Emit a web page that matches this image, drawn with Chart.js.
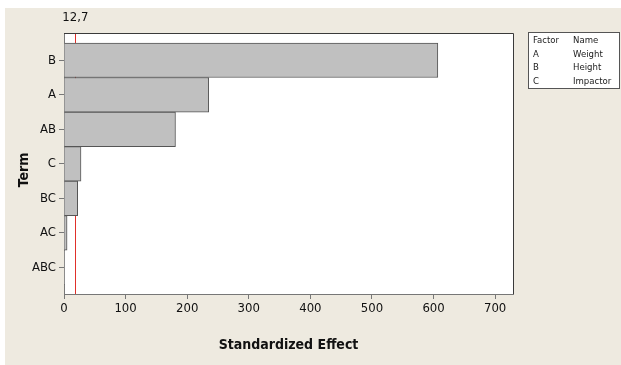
<!DOCTYPE html>
<html>
<head>
<meta charset="utf-8">
<script src="https://cdn.jsdelivr.net/npm/chart.js@4.4.1/dist/chart.umd.min.js"></script>
<style>
    html, body { margin: 0; padding: 0; background: #fff; }
    #wrap { width: 621px; height: 365px; }
</style>
</head>
<body>
<div id="wrap"><canvas id="paretoChart" width="621" height="365"></canvas></div>
<script>
    const terms = ['B', 'A', 'AB', 'C', 'BC', 'AC', 'ABC'];
    const effects = [607, 235, 181, 27.6, 22.2, 5, 0.4];
    const xTicks = [0, 100, 200, 300, 400, 500, 600, 700];
    const refLineValue = 18.4;
    const refLineLabel = '12,7';
    const factorLetters = ['A', 'B', 'C'];
    const factorNames = ['Weight', 'Height', 'Impactor'];

    const FONT = '"DejaVu Sans Condensed", "DejaVu Sans", sans-serif';
    const BEIGE = '#eeeae0';

    const decor = {
        id: 'decor',
        beforeDraw(chart) {
            const { ctx, chartArea: a } = chart;
            ctx.save();
            ctx.fillStyle = BEIGE;
            ctx.fillRect(5, 8, chart.width - 5, chart.height - 8);
            ctx.fillStyle = '#fff';
            ctx.fillRect(a.left, a.top, a.right - a.left, a.bottom - a.top);
            ctx.restore();
        },
        beforeDatasetsDraw(chart) {
            const { ctx, chartArea: a } = chart;
            const x = Math.round(chart.scales.x.getPixelForValue(refLineValue)) + 0.5;
            ctx.save();
            ctx.strokeStyle = '#e0302a';
            ctx.lineWidth = 1;
            ctx.beginPath();
            ctx.moveTo(x, a.top);
            ctx.lineTo(x, a.bottom);
            ctx.stroke();
            ctx.restore();
        },
        afterDraw(chart) {
            const { ctx, chartArea: a } = chart;
            ctx.save();
            // top and right frame of plot
            ctx.strokeStyle = '#3a3a3a';
            ctx.lineWidth = 1;
            ctx.beginPath();
            ctx.moveTo(a.left, a.top + 0.5);
            ctx.lineTo(a.right + 0.5, a.top + 0.5);
            ctx.lineTo(a.right + 0.5, a.bottom);
            ctx.stroke();

            // reference line label
            const x = chart.scales.x.getPixelForValue(refLineValue);
            ctx.fillStyle = '#111';
            ctx.font = '13px ' + FONT;
            ctx.textAlign = 'center';
            ctx.textBaseline = 'middle';
            ctx.fillText(refLineLabel, x, 18);

            // y axis title
            ctx.save();
            ctx.translate(24, 170);
            ctx.rotate(-Math.PI / 2);
            ctx.font = 'bold 14px ' + FONT;
            ctx.fillText('Term', 0, 0);
            ctx.restore();

            // factor box
            ctx.fillStyle = '#fff';
            ctx.fillRect(528, 32, 92, 56);
            ctx.strokeStyle = '#555';
            ctx.strokeRect(528.5, 32.5, 91, 56);
            ctx.fillStyle = '#222';
            ctx.font = '9.5px ' + FONT;
            ctx.textAlign = 'left';
            ctx.fillText('Factor', 533, 41);
            ctx.fillText('Name', 573, 41);
            factorLetters.forEach((f, i) => {
                const y = 54.5 + i * 13.5;
                ctx.fillText(f, 533, y);
                ctx.fillText(factorNames[i], 573, y);
            });
            ctx.restore();
        }
    };

    const ctx = document.getElementById('paretoChart').getContext('2d');

    new Chart(ctx, {
        type: 'bar',
        data: {
            datasets: [{
                label: 'Standardized Effect',
                data: effects.map((v, i) => ({ x: v, y: i })),
                backgroundColor: '#c0c0c0',
                borderColor: '#555',
                borderWidth: 1,
                barPercentage: 1,
                categoryPercentage: 1
            }]
        },
        options: {
            indexAxis: 'y',
            responsive: false,
            animation: false,
            layout: { padding: { top: 33, right: 108, bottom: 7, left: 20 } },
            plugins: { legend: { display: false }, tooltip: { enabled: false } },
            scales: {
                x: {
                    type: 'linear',
                    position: 'bottom',
                    min: 0,
                    max: 729,
                    afterBuildTicks: s => { s.ticks = xTicks.map(v => ({ value: v })); },
                    afterFit: s => { s.height = 64; },
                    grid: { drawOnChartArea: false, drawTicks: true, tickLength: 5, color: '#777' },
                    border: { display: true, color: '#777' },
                    ticks: { color: '#111', padding: 2, font: { family: FONT, size: 13 } },
                    title: {
                        display: true,
                        text: 'Standardized Effect',
                        color: '#111',
                        font: { family: FONT, size: 14, weight: 'bold' }
                    }
                },
                y: {
                    type: 'linear',
                    position: 'left',
                    reverse: true,
                    offset: false,
                    min: -0.79,
                    max: 6.77,
                    afterBuildTicks: s => { s.ticks = terms.map((t, i) => ({ value: i })); },
                    afterFit: s => { s.width = 44; },
                    grid: { offset: false, drawOnChartArea: false, drawTicks: true, tickLength: 5, color: '#777' },
                    border: { display: true, color: '#777' },
                    ticks: {
                        color: '#111',
                        padding: 3,
                        autoSkip: false,
                        font: { family: FONT, size: 13 },
                        callback: v => terms[v]
                    }
                }
            }
        },
        plugins: [decor]
    });
</script>
</body>
</html>
